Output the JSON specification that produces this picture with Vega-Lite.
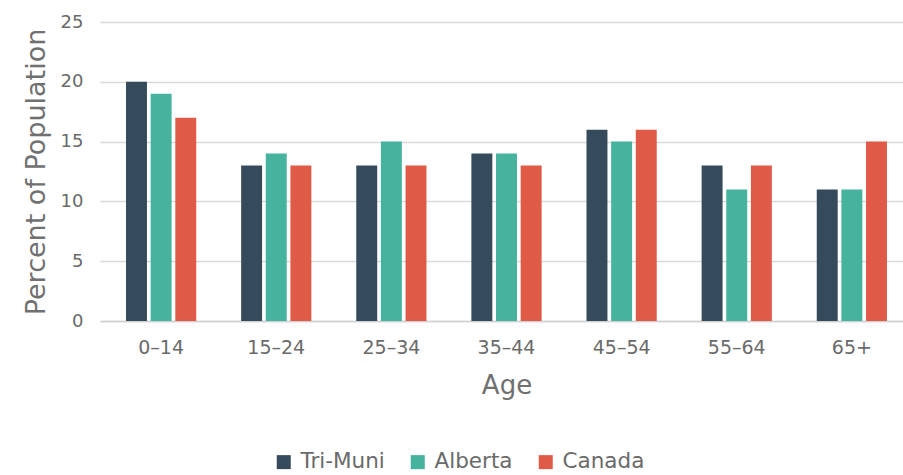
{
  "$schema": "https://vega.github.io/schema/vega-lite/v6.json",
  "width": 813,
  "height": 299,
  "autosize": {"type": "none"},
  "padding": {"left": 100, "top": 22, "right": 0, "bottom": 154},
  "background": "white",
  "config": {
    "font": "DejaVu Sans",
    "view": {"stroke": null}
  },
  "data": {
    "values": [
      {"age": "0–14", "region": "Tri-Muni", "pct": 20},
      {"age": "0–14", "region": "Alberta", "pct": 19},
      {"age": "0–14", "region": "Canada", "pct": 17},
      {"age": "15–24", "region": "Tri-Muni", "pct": 13},
      {"age": "15–24", "region": "Alberta", "pct": 14},
      {"age": "15–24", "region": "Canada", "pct": 13},
      {"age": "25–34", "region": "Tri-Muni", "pct": 13},
      {"age": "25–34", "region": "Alberta", "pct": 15},
      {"age": "25–34", "region": "Canada", "pct": 13},
      {"age": "35–44", "region": "Tri-Muni", "pct": 14},
      {"age": "35–44", "region": "Alberta", "pct": 14},
      {"age": "35–44", "region": "Canada", "pct": 13},
      {"age": "45–54", "region": "Tri-Muni", "pct": 16},
      {"age": "45–54", "region": "Alberta", "pct": 15},
      {"age": "45–54", "region": "Canada", "pct": 16},
      {"age": "55–64", "region": "Tri-Muni", "pct": 13},
      {"age": "55–64", "region": "Alberta", "pct": 11},
      {"age": "55–64", "region": "Canada", "pct": 13},
      {"age": "65+", "region": "Tri-Muni", "pct": 11},
      {"age": "65+", "region": "Alberta", "pct": 11},
      {"age": "65+", "region": "Canada", "pct": 15}
    ]
  },
  "mark": {"type": "bar"},
  "encoding": {
    "x": {
      "field": "age", "type": "nominal", "sort": null,
      "scale": {"paddingInner": 0.39, "paddingOuter": 0.226},
      "axis": {
        "title": "Age", "labelAngle": 0, "labelFontSize": 19, "labelColor": "#6a6a6a",
        "labelPadding": 17, "ticks": false, "domainColor": "#d0d0d0", "domainWidth": 1.5,
        "titleFontSize": 26, "titleFontWeight": "normal", "titleColor": "#707070", "titlePadding": 15
      }
    },
    "xOffset": {
      "field": "region", "type": "nominal", "sort": ["Tri-Muni", "Alberta", "Canada"],
      "scale": {"paddingInner": 0.15}
    },
    "y": {
      "field": "pct", "type": "quantitative",
      "scale": {"domain": [0, 25]},
      "axis": {
        "title": "Percent of Population", "values": [0, 5, 10, 15, 20, 25],
        "labelFontSize": 18, "labelColor": "#6a6a6a", "labelPadding": 17,
        "ticks": false, "domain": false, "gridColor": "#d9d9d9", "gridWidth": 1.5,
        "titleFontSize": 27, "titleFontWeight": "normal", "titleColor": "#707070", "titlePadding": 10
      }
    },
    "color": {
      "field": "region", "type": "nominal", "sort": ["Tri-Muni", "Alberta", "Canada"],
      "scale": {"domain": ["Tri-Muni", "Alberta", "Canada"], "range": ["#354b5c", "#45b39d", "#e05a48"]},
      "legend": {
        "title": null, "orient": "none", "legendX": 173, "legendY": 429, "direction": "horizontal",
        "symbolType": "square", "symbolSize": 196, "symbolStrokeWidth": 0, "symbolOpacity": 1,
        "labelFontSize": 21.5, "labelColor": "#6a6a6a", "columnPadding": 22, "labelOffset": 6
      }
    }
  }
}
